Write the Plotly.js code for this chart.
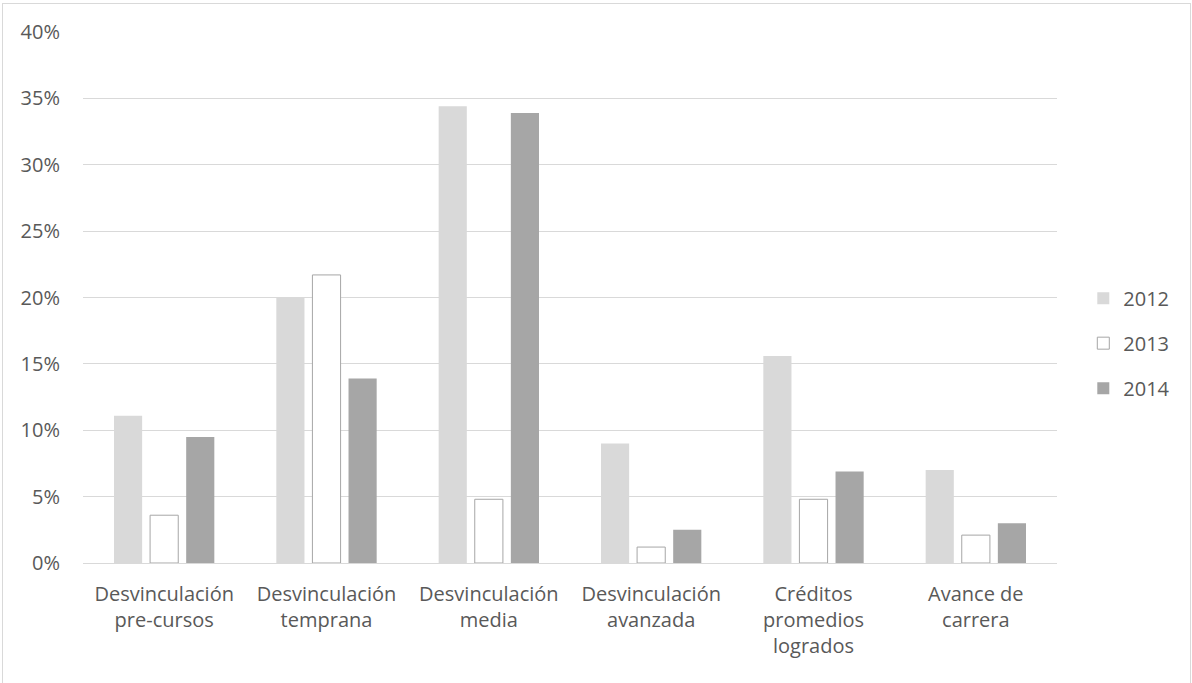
<!DOCTYPE html>
<html>
<head>
<meta charset="utf-8">
<script src="https://cdn.plot.ly/plotly-3.0.1.min.js"></script>
<style>
  html, body { margin: 0; padding: 0; background: #fff; }
  #wrap { position: relative; width: 1192px; height: 683px; overflow: hidden; }
  #chart { width: 1192px; height: 683px; }
  #frame { position: absolute; left: 2px; top: 3px; width: 1187px; height: 700px; border: 1px solid #d9d9d9; pointer-events: none; }
</style>
</head>
<body>
<div id="wrap">
  <div id="chart"></div>
  <div id="frame"></div>
</div>
<script>
const categories = [
  "Desvinculación<br>pre-cursos",
  "Desvinculación<br>temprana",
  "Desvinculación<br>media",
  "Desvinculación<br>avanzada",
  "Créditos<br>promedios<br>logrados",
  "Avance de<br>carrera"
];
const seriesNames = ["2012", "2013", "2014"];
const values2012 = [0.111, 0.200, 0.344, 0.090, 0.156, 0.070];
const values2013 = [0.036, 0.217, 0.048, 0.012, 0.048, 0.021];
const values2014 = [0.095, 0.139, 0.339, 0.025, 0.069, 0.030];
const yTickValues = [0, 0.05, 0.10, 0.15, 0.20, 0.25, 0.30, 0.35, 0.40];

const FONT = "'Open Sans', 'Noto Sans', sans-serif";
const TXT = "#595959";
const FS = 20;

const traces = [
  { name: seriesNames[0], y: values2012, marker: { color: "#d9d9d9", line: { width: 0 } }, legendgroup: "a" },
  { name: seriesNames[1], y: values2013, marker: { color: "#ffffff", line: { color: "#a6a6a6", width: 1 } }, legendgroup: "b" },
  { name: seriesNames[2], y: values2014, marker: { color: "#a6a6a6", line: { width: 0 } }, legendgroup: "c" }
].map(t => Object.assign({ type: "bar", x: categories, hoverinfo: "x+y+name" }, t));

const layout = {
  width: 1192,
  height: 683,
  paper_bgcolor: "#ffffff",
  plot_bgcolor: "#ffffff",
  margin: { l: 83, r: 135, t: 32, b: 120, pad: 0, autoexpand: false },
  barmode: "group",
  bargap: 0.333,
  bargroupgap: 0.22,
  font: { family: FONT, color: TXT, size: FS },
  xaxis: {
    type: "category",
    showgrid: false,
    showline: true,
    linecolor: "#d9d9d9",
    linewidth: 1,
    ticks: "",
    tickfont: { family: FONT, color: TXT, size: FS },
    ticklabelstandoff: 13,
    zeroline: false,
    fixedrange: true,
    automargin: false
  },
  yaxis: {
    range: [0, 0.40],
    tickvals: yTickValues,
    tickformat: ".0%",
    showgrid: true,
    gridcolor: "#d9d9d9",
    gridwidth: 1,
    zeroline: false,
    showline: false,
    ticks: "",
    ticklabelstandoff: 22,
    tickfont: { family: FONT, color: TXT, size: FS },
    fixedrange: true,
    automargin: false
  },
  legend: {
    x: 1.027,
    xanchor: "left",
    y: 0.414,
    yanchor: "middle",
    font: { family: FONT, color: TXT, size: FS },
    traceorder: "grouped",
    tracegroupgap: 16,
    itemwidth: 30,
    bgcolor: "rgba(0,0,0,0)"
  },
  showlegend: true
};

Plotly.newPlot("chart", traces, layout, { displayModeBar: false, staticPlot: false, responsive: false });
</script>
</body>
</html>
